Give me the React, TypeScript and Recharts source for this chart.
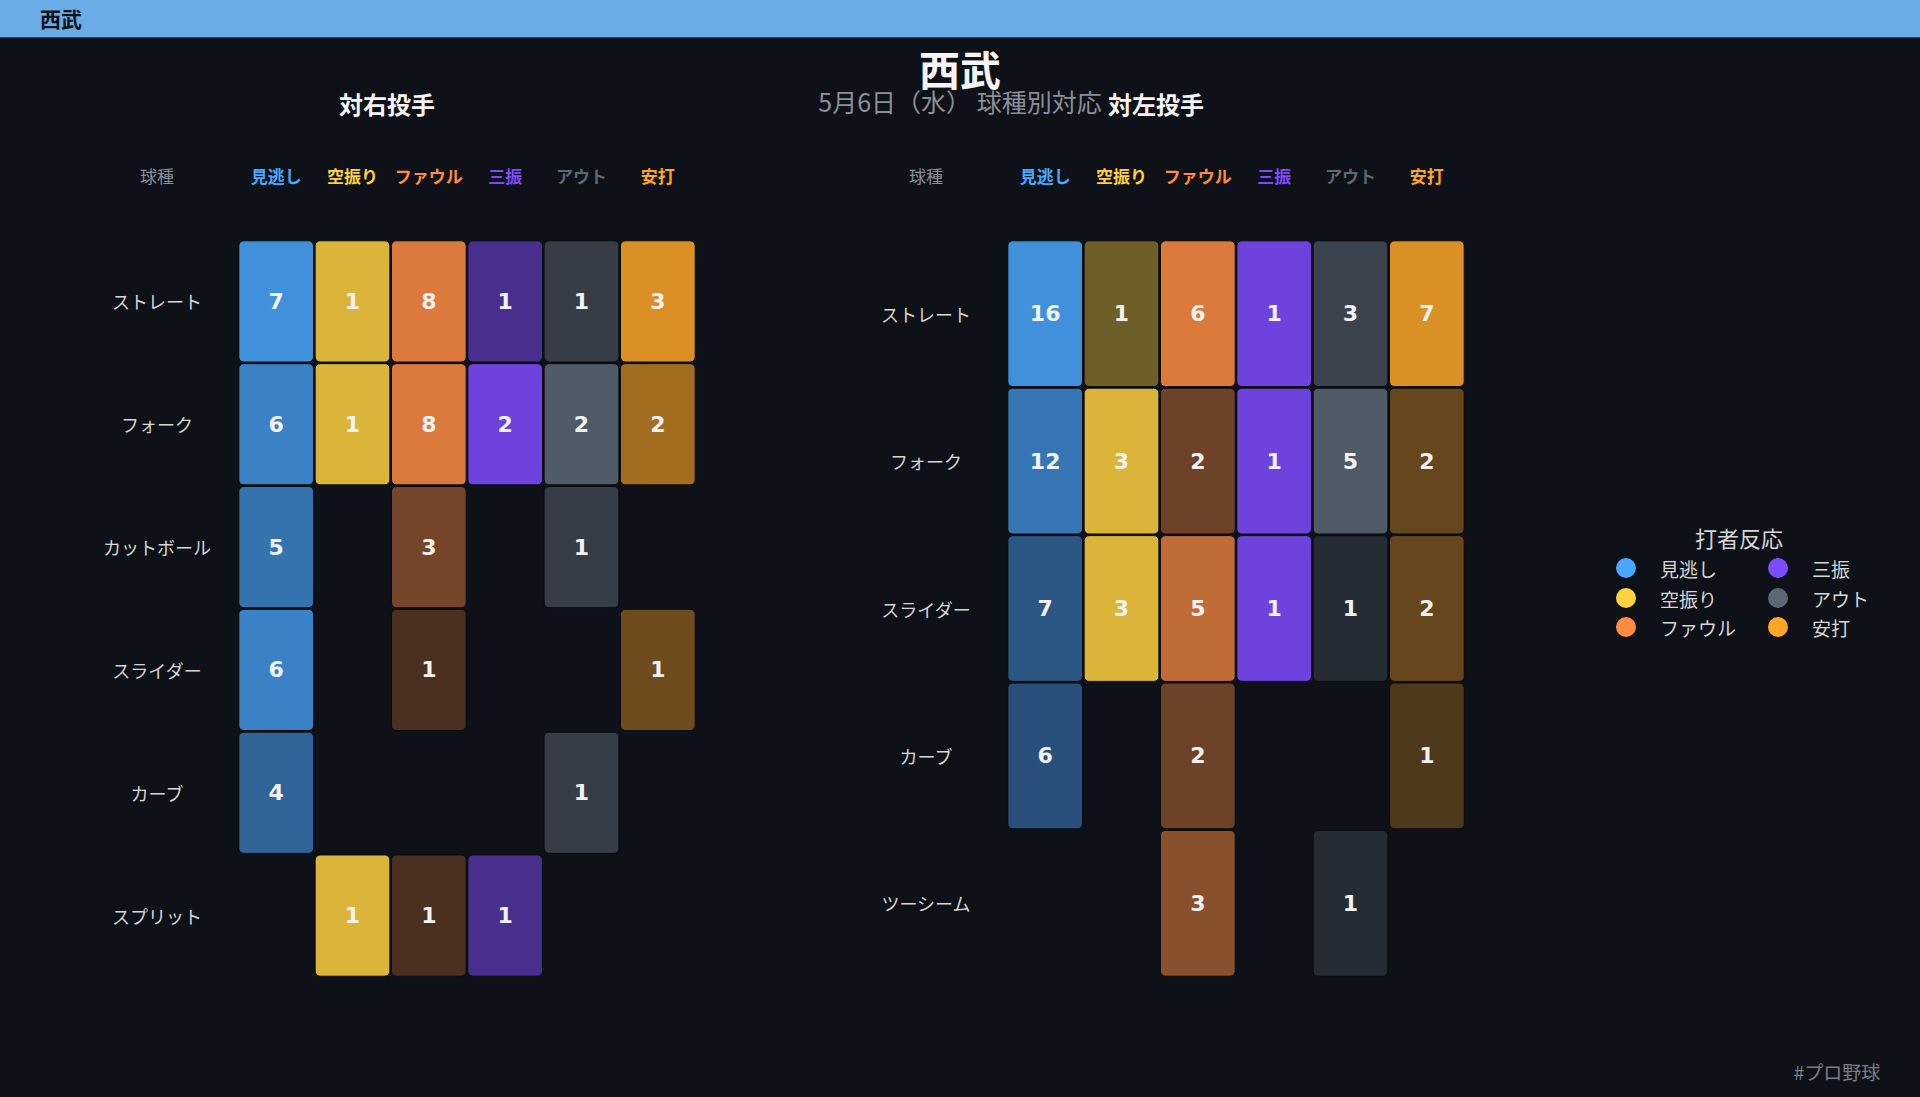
import { ScatterChart, Scatter, XAxis, YAxis } from 'recharts';

const reactions = ['見逃し', '空振り', 'ファウル', '三振', 'アウト', '安打'];
const reactionColors = ['#4aa6ff', '#ffd240', '#ff8c42', '#7f4bff', '#5c6876', '#ffa627'];

// 対右投手
const rhPitches = ['ストレート', 'フォーク', 'カットボール', 'スライダー', 'カーブ', 'スプリット'];
const rhStraight = [7, 1, 8, 1, 1, 3];
const rhFork = [6, 1, 8, 2, 2, 2];
const rhCutter = [5, 0, 3, 0, 1, 0];
const rhSlider = [6, 0, 1, 0, 0, 1];
const rhCurve = [4, 0, 0, 0, 1, 0];
const rhSplit = [0, 1, 1, 1, 0, 0];

// 対左投手
const lhPitches = ['ストレート', 'フォーク', 'スライダー', 'カーブ', 'ツーシーム'];
const lhStraight = [16, 1, 6, 1, 3, 7];
const lhFork = [12, 3, 2, 1, 5, 2];
const lhSlider = [7, 3, 5, 1, 1, 2];
const lhCurve = [6, 0, 2, 0, 0, 1];
const lhTwoSeam = [0, 0, 3, 0, 1, 0];

const BG = '#0e1117';
const FONT = '"DejaVu Sans", "Noto Sans CJK JP", sans-serif';
const JP = '"Noto Sans CJK JP", "DejaVu Sans", sans-serif';

const hexToRgb = (h: string) => [1, 3, 5].map((i) => parseInt(h.slice(i, i + 2), 16));

function cellColor(base: string, v: number, max: number) {
  const a = 0.85 * (0.2 + 0.8 * (v / max));
  const b = hexToRgb(base);
  const bg = hexToRgb(BG);
  const c = b.map((x, i) => Math.round(bg[i] + (x - bg[i]) * a));
  return `rgb(${c[0]},${c[1]},${c[2]})`;
}

function buildCells(rows: number[][]) {
  const colMax = reactions.map((_, c) => Math.max(...rows.map((r) => r[c])));
  const out: { x: number; y: number; v: number; max: number }[] = [];
  rows.forEach((r, y) =>
    r.forEach((v, x) => {
      if (v > 0) out.push({ x, y, v, max: colMax[x] });
    })
  );
  return out;
}

const CHART_W = 720;
const CHART_H = 870;
const PLOT_W = 458;
const PLOT_H = 737;

interface TableProps {
  pitches: string[];
  rows: number[][];
  left: number;
  marginLeft: number;
  labelX: number;
}

function HeatTable({ pitches, rows, left, marginLeft, labelX }: TableProps) {
  const data = buildCells(rows);
  const cellW = PLOT_W / reactions.length - 1.6;
  const cellH = PLOT_H / pitches.length - 1.6;

  const HeaderTick = (props: any) => {
    const { x, payload, index } = props;
    const i = payload.value as number;
    return (
      <g>
        {index === 0 && (
          <text x={labelX} y={45} textAnchor="middle" dominantBaseline="central" fill="#8a8f98" fontSize={17} fontFamily={JP}>
            球種
          </text>
        )}
        <text x={x} y={45} textAnchor="middle" dominantBaseline="central" fill={reactionColors[i]} fontSize={17} fontWeight="bold" fontFamily={JP}>
          {reactions[i]}
        </text>
      </g>
    );
  };

  const RowTick = (props: any) => {
    const { y, payload } = props;
    return (
      <text x={labelX} y={y} textAnchor="middle" dominantBaseline="central" fill="#d6d6d6" fontSize={18} fontFamily={JP}>
        {pitches[payload.value]}
      </text>
    );
  };

  const CellShape = (props: any) => {
    const { cx, cy, payload } = props;
    return (
      <g>
        <rect
          x={cx - cellW / 2}
          y={cy - cellH / 2}
          width={cellW}
          height={cellH}
          rx={5}
          ry={5}
          fill={cellColor(reactionColors[payload.x], payload.v, payload.max)}
          stroke="#090b0f"
          strokeWidth={1}
        />
        <text x={cx} y={cy} textAnchor="middle" dominantBaseline="central" fill="#f2f2f2" fontSize={22} fontWeight="bold" fontFamily={FONT}>
          {payload.v}
        </text>
      </g>
    );
  };

  return (
    <div style={{ position: 'absolute', left, top: 130 }}>
      <ScatterChart
        width={CHART_W}
        height={CHART_H}
        margin={{ top: 50, right: CHART_W - marginLeft - 200 - PLOT_W, bottom: CHART_H - 110 - PLOT_H, left: marginLeft }}
      >
        <XAxis
          type="number"
          dataKey="x"
          orientation="top"
          height={60}
          domain={[-0.5, reactions.length - 0.5]}
          ticks={reactions.map((_, i) => i)}
          axisLine={false}
          tickLine={false}
          tick={HeaderTick}
          interval={0}
        />
        <YAxis
          type="number"
          dataKey="y"
          width={200}
          reversed
          domain={[-0.5, pitches.length - 0.5]}
          ticks={pitches.map((_, i) => i)}
          axisLine={false}
          tickLine={false}
          tick={RowTick}
          interval={0}
        />
        <Scatter data={data} shape={CellShape} isAnimationActive={false} />
      </ScatterChart>
    </div>
  );
}

const centered = (x: number, y: number): React.CSSProperties => ({
  position: 'absolute',
  left: x,
  top: y,
  transform: 'translate(-50%, -50%)',
  whiteSpace: 'nowrap',
  fontFamily: JP,
});

export default function App() {
  return (
    <div style={{ position: 'absolute', left: 0, top: 0, width: 1920, height: 1097, background: BG, overflow: 'hidden' }}>
      <div style={{ position: 'absolute', left: 0, top: 0, width: 1920, height: 37, background: '#6aade6', borderBottom: '1px solid #2b4a6a' }}>
        <div style={{ position: 'absolute', left: 40, top: 18, transform: 'translateY(-50%)', fontFamily: JP, fontWeight: 'bold', fontSize: 21, color: '#0e1117' }}>
          西武
        </div>
      </div>

      <div style={{ ...centered(960, 68), fontSize: 41, fontWeight: 'bold', color: '#f5f5f5' }}>西武</div>
      <div style={{ ...centered(960, 101), fontSize: 25, color: '#8a8f98' }}>5月6日（水） 球種別対応</div>
      <div style={{ ...centered(387, 103), fontSize: 24, fontWeight: 'bold', color: '#f5f5f5' }}>対右投手</div>
      <div style={{ ...centered(1156, 103), fontSize: 24, fontWeight: 'bold', color: '#f5f5f5' }}>対左投手</div>

      <HeatTable
        pitches={rhPitches}
        rows={[rhStraight, rhFork, rhCutter, rhSlider, rhCurve, rhSplit]}
        left={0}
        marginLeft={38}
        labelX={157}
      />
      <HeatTable
        pitches={lhPitches}
        rows={[lhStraight, lhFork, lhSlider, lhCurve, lhTwoSeam]}
        left={770}
        marginLeft={37}
        labelX={156}
      />

      <div style={{ ...centered(1739, 537), fontSize: 22, color: '#d6d6d6' }}>打者反応</div>
      {reactions.map((r, i) => {
        const col = Math.floor(i / 3);
        const row = i % 3;
        const cx = col === 0 ? 1626 : 1778;
        const cy = 568 + row * 29.5;
        return (
          <div key={r}>
            <div style={{ position: 'absolute', left: cx - 10, top: cy - 10, width: 20, height: 20, borderRadius: 10, background: reactionColors[i] }} />
            <div style={{ position: 'absolute', left: cx + 34, top: cy, transform: 'translateY(-50%)', fontFamily: JP, fontSize: 19, color: '#d6d6d6', whiteSpace: 'nowrap' }}>
              {r}
            </div>
          </div>
        );
      })}

      <div style={{ ...centered(1837, 1071), fontSize: 19, color: '#7a7f88' }}>#プロ野球</div>
    </div>
  );
}
